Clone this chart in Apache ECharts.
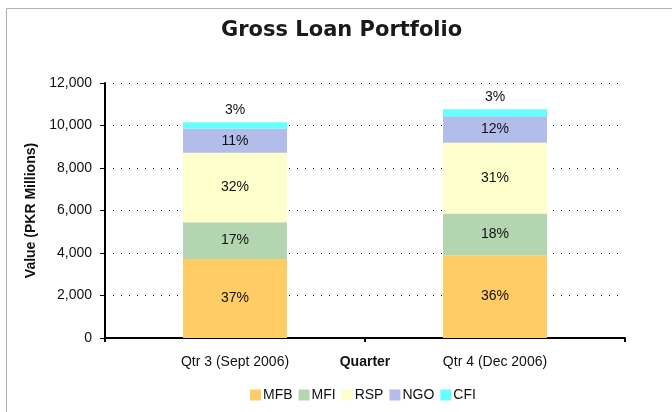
<!DOCTYPE html>
<html>
<head>
<meta charset="utf-8">
<script src="https://cdn.jsdelivr.net/npm/echarts@6/dist/echarts.min.js"></script>
<style>
    html, body { margin: 0; padding: 0; background: #fff; }
    #chart { width: 672px; height: 412px; }
</style>
</head>
<body>
<div id="chart"></div>
<script>
    // quarters on the x axis
    var quarters = ['Qtr 3 (Sept 2006)', 'Qtr 4 (Dec 2006)']
    // loan portfolio per institution type (PKR millions)
    var mfb = [3720, 3900]
    var mfi = [1730, 1960]
    var rsp = [3270, 3330]
    var ngo = [1130, 1250]
    var cfi = [300, 330]
    var yTicks = [0, 2000, 4000, 6000, 8000, 10000, 12000]

    var seriesNames = ['MFB', 'MFI', 'RSP', 'NGO', 'CFI']
    var seriesData = [mfb, mfi, rsp, ngo, cfi]
    var colors = ['#FFCC66', '#B3D5B0', '#FFFFCC', '#B3BDEA', '#66FFFF']

    var totals = quarters.map(function (q, i) {
        return seriesData.reduce(function (s, arr) { return s + arr[i] }, 0)
    })

    var chart = echarts.init(document.getElementById('chart'))
    var font = 'Liberation Sans, Arial, sans-serif'

    var series = seriesNames.map(function (name, k) {
        return {
            name: name,
            type: 'bar',
            stack: 'total',
            barWidth: '40%',
            data: seriesData[k],
            itemStyle: { color: colors[k] },
            label: {
                show: true,
                position: k == 4 ? 'top' : 'inside',
                distance: 5,
                color: '#111',
                fontFamily: font,
                fontSize: 14,
                formatter: function (p) {
                    return Math.round(p.value / totals[p.dataIndex] * 100) + '%'
                }
            }
        }
    })

    var options = {
        backgroundColor: '#fff',
        animation: false,
        color: colors,
        title: {
            text: 'Gross Loan Portfolio',
            left: 216,
            top: 15,
            textStyle: {
                fontFamily: 'DejaVu Sans, Verdana, sans-serif',
                fontWeight: 'bold',
                fontSize: 21,
                color: '#1a1a1a'
            }
        },
        graphic: [{
            type: 'rect',
            shape: { x: 6.5, y: 8.5, width: 700, height: 450 },
            style: { fill: 'none', stroke: '#b0b0b0', lineWidth: 1 },
            silent: true,
            z: -1
        }],
        legend: {
            data: seriesNames,
            left: 245,
            top: 383,
            icon: 'rect',
            itemWidth: 11,
            itemHeight: 11,
            itemGap: 6,
            textStyle: { fontFamily: font, fontSize: 14, color: '#111', padding: [0, 0, 0, -3] }
        },
        grid: {
            left: 105,
            right: 47,
            top: 83,
            bottom: 74
        },
        xAxis: {
            type: 'category',
            data: quarters,
            name: 'Quarter',
            nameLocation: 'middle',
            nameGap: 17,
            nameMoveOverlap: false,
            nameTextStyle: {
                fontFamily: font, fontSize: 14, fontWeight: 'bold', color: '#111',
                verticalAlign: 'top'
            },
            axisLine: { lineStyle: { color: '#000', width: 2 } },
            axisTick: { show: true, length: 4, lineStyle: { color: '#000', width: 2 } },
            axisLabel: { fontFamily: font, fontSize: 14, color: '#111', margin: 17 }
        },
        yAxis: {
            type: 'value',
            min: yTicks[0],
            max: yTicks[yTicks.length - 1],
            interval: yTicks[1] - yTicks[0],
            name: 'Value (PKR Millions)',
            nameLocation: 'middle',
            nameGap: 64,
            nameTextStyle: { fontFamily: font, fontSize: 14, fontWeight: 'bold', color: '#111' },
            axisLine: { show: true, lineStyle: { color: '#000', width: 2 } },
            axisTick: { show: true, length: 5, lineStyle: { color: '#000', width: 1 } },
            axisLabel: {
                fontFamily: font, fontSize: 14, color: '#111', margin: 13,
                formatter: function (v) { return v.toLocaleString('en-US') }
            },
            splitLine: {
                show: true,
                lineStyle: { color: '#000', width: 1, type: [1, 7] }
            }
        },
        series: series
    }

    chart.setOption(options)
</script>
</body>
</html>
